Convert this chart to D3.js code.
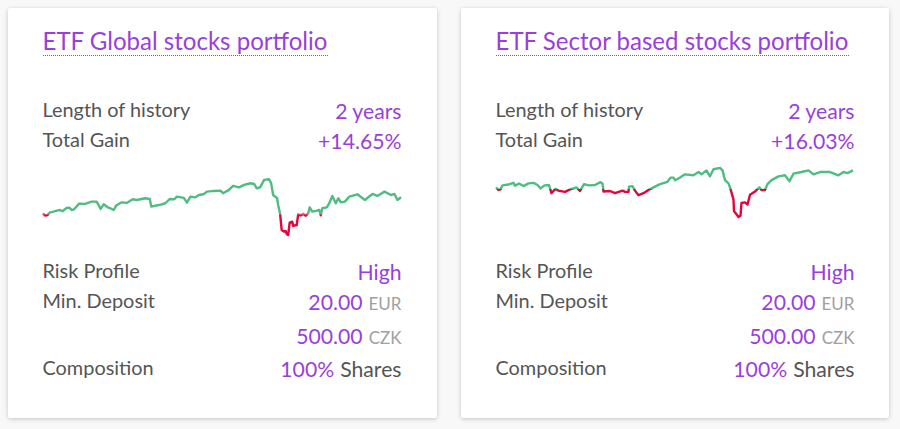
<!DOCTYPE html>
<html><head><meta charset="utf-8">
<script src="https://cdnjs.cloudflare.com/ajax/libs/d3/7.8.5/d3.min.js"></script>
<style>html,body{margin:0;padding:0;background:#f8f8f8;overflow:hidden}svg{display:block}text{font-family:Lato,sans-serif}</style>
</head><body><svg id="c" width="900" height="429"></svg>
<script>
const titles = ["ETF Global stocks portfolio", "ETF Sector based stocks portfolio"];
const historyValues = ["2 years", "2 years"];
const gainValues = ["+14.65%", "+16.03%"];
const riskValues = ["High", "High"];
const eurDeposit = ["20.00", "20.00"];
const czkDeposit = ["500.00", "500.00"];
const shareValues = ["100%", "100%"];

const globalDays = [0,4,9,13,21,28,34,39,47,53,57,62,72,84,97,107,115,121,129,135,141,146,157,167,179,187,197,204,213,216,231,235,244,253,262,267,281,287,294,304,311,321,327,341,354,359,371,379,391,401,414,421,426,433,441,451,455,459,467,469,473,476,481,484,486,489,492,497,499,506,509,514,519,524,529,532,537,545,551,554,557,566,571,577,584,589,594,602,611,627,642,657,667,681,694,701,707,714];
const globalGain = [0.9,-1.1,-0.6,1.4,2.3,3.2,3.7,2.6,5.5,5.7,3.7,4.3,9.2,8.9,10.9,10.9,4.6,8.6,6.0,5.0,3.7,7.5,10.3,9.8,12.9,12.3,13.2,13.8,13.2,6.6,8.0,8.3,9.5,13.2,12.9,15.2,14.1,10.0,15.2,14.6,16.6,17.5,19.5,20.1,20.4,18.1,21.0,24.4,23.2,25.3,26.7,26.1,22.4,23.2,29.6,30.1,26.7,16.6,13.8,8.0,0,-13.5,-14.9,-14.4,-16.9,-17.8,-7.2,-6.3,-10.0,-9.2,0,-1.0,0.4,-1.2,0.9,6.0,2.3,3.0,3.7,-0.8,5.2,6.0,9.5,15.8,9.5,13.8,10.3,10.9,15.2,17.2,12.3,17.5,15.8,19.5,16.6,17.5,12.3,14.65];

const sectorDays = [0,5,9,13,25,35,38,46,55,65,75,83,89,97,106,111,119,125,138,148,161,168,176,185,198,209,213,215,228,238,253,258,265,266,273,278,285,295,305,318,328,343,349,355,358,365,378,395,405,411,421,428,435,448,453,458,465,469,475,476,485,489,491,498,503,508,518,523,527,531,538,543,551,565,578,587,595,611,625,635,648,668,685,695,703,714];
const sectorGain = [1.4,-0.8,-0.3,3.1,3.9,5.3,2.8,4.8,2.5,4.8,5.3,3.4,0.6,3.1,3.4,-3.6,0.3,-1.4,-2.5,-0.3,1.4,-1.7,4.2,3.1,3.4,5.9,4.8,-2.2,-1.7,-3.6,-1.4,-2.5,-2.5,2.0,2.5,-1.4,-5.3,-3.6,-0.8,2.0,4.2,6.2,9.8,9.8,7.5,9.0,12.6,11.8,14.6,12.6,16.0,10.9,17.0,18.2,16.0,7.6,4.8,0,-9.2,-19.0,-24.0,-23.0,-12.0,-11.5,-13.4,-5.0,-2.2,0,1.4,-0.8,-0.8,4.2,7.6,10.9,11.8,6.7,13.2,14.6,16.0,12.6,14.6,14.6,11.8,14.6,13.7,16.03];

const purple = "#9a3fdc", grey = "#555", pale = "#a0a0a4";
const green = "#4fbd80", red = "#e2063d";
const svg = d3.select("#c");
const defs = svg.append("defs");
const f = defs.append("filter").attr("id","sh").attr("x","-5%").attr("y","-5%").attr("width","110%").attr("height","110%");
f.append("feDropShadow").attr("dx",0).attr("dy",1).attr("stdDeviation",2).attr("flood-color","#000").attr("flood-opacity",0.22);

const cards = [
  {left:8, w:429, days:globalDays, gain:globalGain, base:214.3, sparkEnd:393},
  {left:461, w:428, days:sectorDays, gain:sectorGain, base:189, sparkEnd:392}
];

cards.forEach((c,i)=>{
  const g = svg.append("g").attr("transform",`translate(${c.left},0)`);
  g.append("rect").attr("x",0).attr("y",8).attr("width",c.w).attr("height",410).attr("rx",3).attr("fill","#fff").attr("filter","url(#sh)");
  const L = 35, R = 393.5;
  const txt = (x,y,s,col,size,anchor)=>g.append("text").attr("x",x).attr("y",y).attr("fill",col).attr("font-size",size).attr("text-anchor",anchor||"start").text(s);
  const t = txt(L-0.5,49.5,titles[i],purple,24.05);
  const tw = t.node().getComputedTextLength();
  g.append("line").attr("x1",L).attr("x2",Math.round(L+tw)).attr("y1",55.5).attr("y2",55.5).attr("stroke",purple).attr("stroke-width",1).attr("stroke-dasharray","1 1");

  const rows = [
    ["Length of history",117,historyValues[i],118.5],
    ["Total Gain",147,gainValues[i],148.5],
    ["Risk Profile",278,riskValues[i],279.5],
    ["Min. Deposit",308,null,0],
    ["Composition",375,null,0]
  ];
  rows.forEach(r=>{
    txt(L-0.5,r[1],r[0],grey,19.9);
    if(r[2]) txt(R,r[3],r[2],purple,21.2,"end");
  });
  const pair = (y,a,b,col,size)=>{
    const tx = g.append("text").attr("x",R).attr("y",y).attr("text-anchor","end");
    tx.append("tspan").attr("fill",purple).attr("font-size",21.2).text(a);
    tx.append("tspan").attr("fill",col).attr("font-size",size).attr("dx",6).text(b);
  };
  pair(310,eurDeposit[i],"EUR",pale,17);
  pair(343.5,czkDeposit[i],"CZK",pale,17);
  pair(376.5,shareValues[i],"Shares",grey,21.2);

  // sparkline
  const x = d3.scaleLinear().domain([0,714]).range([L,c.sparkEnd]);
  const pxPerPct = 1/0.86;
  const y = d3.scaleLinear().domain([0,30]).range([c.base, c.base-30*pxPerPct]);
  const line = d3.line().x(d=>x(d[0])).y(d=>y(d[1]));
  const data = d3.zip(c.days,c.gain);
  const y0 = y(0);
  const idUp=`up${i}`, idDn=`dn${i}`;
  defs.append("clipPath").attr("id",idUp).append("rect").attr("x",0).attr("y",0).attr("width",900).attr("height",y0);
  defs.append("clipPath").attr("id",idDn).append("rect").attr("x",0).attr("y",y0).attr("width",900).attr("height",429-y0);
  [[idUp,green],[idDn,red]].forEach(p=>{
    g.append("path").attr("clip-path",`url(#${p[0]})`).datum(data).attr("d",line)
     .attr("fill","none").attr("stroke",p[1]).attr("stroke-width",2.4).attr("stroke-linejoin","round");
  });
});
</script></body></html>
